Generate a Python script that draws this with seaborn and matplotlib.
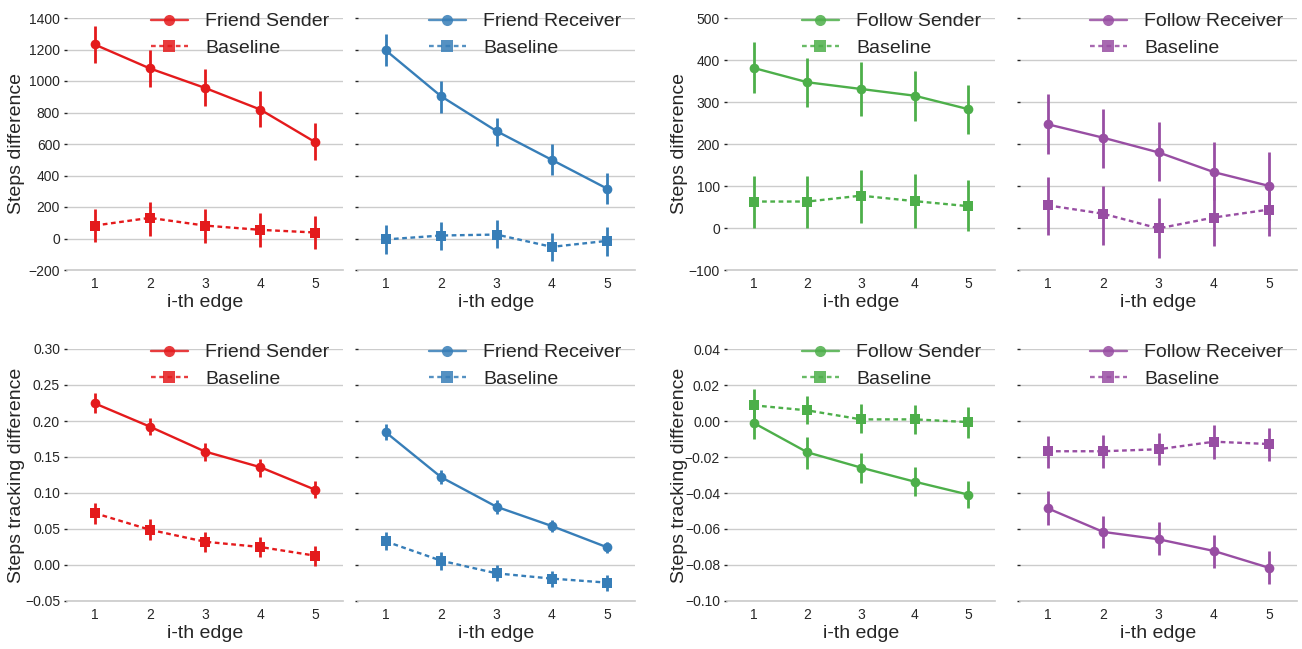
import pandas as pd
import seaborn as sns
import matplotlib.pyplot as plt
from matplotlib.lines import Line2D

edges = [1, 2, 3, 4, 5]

# steps difference, friend sender
fs_steps = [1232, 1080, 956, 819, 611]
fs_steps_lo = [1116, 962, 840, 705, 497]
fs_steps_hi = [1352, 1198, 1074, 939, 731]
fs_steps_base = [82, 131, 82, 55, 38]
fs_steps_base_lo = [-21, 17, -27, -51, -65]
fs_steps_base_hi = [187, 234, 187, 160, 143]

# steps difference, friend receiver
fr_steps = [1195, 903, 682, 499, 316]
fr_steps_lo = [1095, 798, 587, 404, 219]
fr_steps_hi = [1299, 1000, 766, 600, 415]
fr_steps_base = [-6, 19, 25, -53, -15]
fr_steps_base_lo = [-97, -74, -59, -143, -112]
fr_steps_base_hi = [84, 105, 120, 36, 74]

# steps difference, follow sender
ws_steps = [381, 347, 331, 315, 283]
ws_steps_lo = [321, 287, 267, 254, 225]
ws_steps_hi = [443, 405, 395, 373, 341]
ws_steps_base = [63, 63, 77, 64, 52]
ws_steps_base_lo = [-1, 1, 13, 1, -6]
ws_steps_base_hi = [123, 123, 138, 128, 115]

# steps difference, follow receiver
wr_steps = [247, 215, 180, 133, 100]
wr_steps_lo = [176, 143, 113, 67, 20]
wr_steps_hi = [319, 283, 252, 205, 180]
wr_steps_base = [54, 34, -1, 25, 44]
wr_steps_base_lo = [-16, -40, -71, -44, -19]
wr_steps_base_hi = [121, 101, 71, 95, 107]

# steps tracking difference, friend sender
fs_track = [0.2246, 0.1922, 0.1576, 0.1359, 0.1044]
fs_track_lo = [0.2117, 0.1802, 0.1451, 0.1229, 0.0929]
fs_track_hi = [0.2385, 0.2047, 0.1691, 0.1479, 0.1160]
fs_track_base = [0.0721, 0.0490, 0.0323, 0.0250, 0.0129]
fs_track_base_lo = [0.0573, 0.0351, 0.0176, 0.0111, -0.0010]
fs_track_base_hi = [0.0860, 0.0638, 0.0462, 0.0388, 0.0259]

# steps tracking difference, friend receiver
fr_track = [0.1844, 0.1220, 0.0809, 0.0541, 0.0245]
fr_track_lo = [0.1737, 0.1128, 0.0712, 0.0453, 0.0166]
fr_track_hi = [0.1955, 0.1322, 0.0906, 0.0619, 0.0323]
fr_track_base = [0.0328, 0.0060, -0.0116, -0.0189, -0.0245]
fr_track_base_lo = [0.0203, -0.0065, -0.0226, -0.0305, -0.0365]
fr_track_base_hi = [0.0462, 0.0176, 0.0005, -0.0083, -0.0134]

# steps tracking difference, follow sender
ws_track = [-0.0011, -0.0174, -0.0259, -0.0337, -0.0409]
ws_track_lo = [-0.0102, -0.0265, -0.0342, -0.0416, -0.0486]
ws_track_hi = [0.0079, -0.0087, -0.0180, -0.0253, -0.0331]
ws_track_base = [0.0087, 0.0059, 0.0009, 0.0009, -0.0006]
ws_track_base_lo = [-0.0003, -0.0018, -0.0068, -0.0072, -0.0092]
ws_track_base_hi = [0.0176, 0.0139, 0.0094, 0.0089, 0.0076]

# steps tracking difference, follow receiver
wr_track = [-0.0485, -0.0616, -0.0657, -0.0722, -0.0816]
wr_track_lo = [-0.0577, -0.0703, -0.0744, -0.0816, -0.0908]
wr_track_hi = [-0.0390, -0.0525, -0.0562, -0.0633, -0.0722]
wr_track_base = [-0.0168, -0.0168, -0.0157, -0.0115, -0.0128]
wr_track_base_lo = [-0.0259, -0.0259, -0.0244, -0.0209, -0.0224]
wr_track_base_hi = [-0.0083, -0.0080, -0.0068, -0.0022, -0.0041]

names = ["Friend Sender", "Friend Receiver", "Follow Sender", "Follow Receiver"]
colors = ["#e41a1c", "#377eb8", "#4daf4a", "#984ea3"]

sns.set_theme(style="whitegrid")
plt.rcParams["font.family"] = ["Liberation Sans", "DejaVu Sans"]
plt.rcParams["axes.edgecolor"] = "#cccccc"
plt.rcParams["grid.color"] = "#cccccc"
plt.rcParams["text.color"] = "#262626"

fig = plt.figure(figsize=(13.02, 6.49), dpi=100)
W, H = 1302, 649

def place(x0, y0, w, h, sharey=None):
    return fig.add_axes([x0 / W, 1 - (y0 + h) / H, w / W, h / H], sharey=sharey)

rows = [
    dict(top=18, label="Steps difference",
         panels=[(fs_steps, fs_steps_lo, fs_steps_hi, fs_steps_base, fs_steps_base_lo, fs_steps_base_hi),
                 (fr_steps, fr_steps_lo, fr_steps_hi, fr_steps_base, fr_steps_base_lo, fr_steps_base_hi),
                 (ws_steps, ws_steps_lo, ws_steps_hi, ws_steps_base, ws_steps_base_lo, ws_steps_base_hi),
                 (wr_steps, wr_steps_lo, wr_steps_hi, wr_steps_base, wr_steps_base_lo, wr_steps_base_hi)],
         ylims=[(-200, 1400), (-100, 500)], steps=[200, 100]),
    dict(top=349, label="Steps tracking difference",
         panels=[(fs_track, fs_track_lo, fs_track_hi, fs_track_base, fs_track_base_lo, fs_track_base_hi),
                 (fr_track, fr_track_lo, fr_track_hi, fr_track_base, fr_track_base_lo, fr_track_base_hi),
                 (ws_track, ws_track_lo, ws_track_hi, ws_track_base, ws_track_base_lo, ws_track_base_hi),
                 (wr_track, wr_track_lo, wr_track_hi, wr_track_base, wr_track_base_lo, wr_track_base_hi)],
         ylims=[(-0.05, 0.30), (-0.10, 0.04)], steps=[0.05, 0.02]),
]

lefts = [67, 358, 727, 1020]
widths = [276, 277, 268, 277]
ylabel_x = [-0.152, None, -0.146, None]

for row in rows:
    first = None
    for i in range(4):
        share = first if i % 2 == 1 else None
        ax = place(lefts[i], row["top"], widths[i], 252, sharey=share)
        if i % 2 == 0:
            first = ax
        mean, lo, hi, bmean, blo, bhi = row["panels"][i]
        c = colors[i]
        df = pd.DataFrame({
            "edge": edges * 2,
            "value": list(mean) + list(bmean),
            "series": [names[i]] * 5 + ["Baseline"] * 5,
        })
        sns.lineplot(data=df, x="edge", y="value", hue="series", style="series",
                     palette=[c, c], markers={names[i]: "o", "Baseline": "s"},
                     dashes={names[i]: "", "Baseline": (2, 1.5)},
                     linewidth=1.7, markersize=7, markeredgewidth=0,
                     legend=False, ax=ax)
        ax.vlines(edges, lo, hi, color=c, lw=2)
        ax.vlines(edges, blo, bhi, color=c, lw=2)

        ylo, yhi = row["ylims"][i // 2]
        st = row["steps"][i // 2]
        n = int(round((yhi - ylo) / st))
        ax.set_yticks([ylo + k * st for k in range(n + 1)])
        ax.set_ylim(ylo, yhi)
        ax.set_xlim(0.5, 5.5)
        ax.set_xticks(edges)
        ax.grid(axis="x", visible=False)
        ax.grid(axis="y", color="#cccccc", lw=1)
        for s in ["left", "top", "right"]:
            ax.spines[s].set_visible(False)
        ax.spines["bottom"].set_color("#cccccc")
        ax.tick_params(axis="y", left=True, length=2, width=1, color="#262626",
                       labelsize=10, pad=3, labelcolor="#262626")
        ax.tick_params(axis="x", bottom=False, length=0, labelsize=10, pad=5,
                       labelcolor="#262626")
        ax.set_xlabel("i-th edge", fontsize=14, labelpad=2)
        if i % 2 == 0:
            ax.set_ylabel(row["label"], fontsize=14)
            ax.yaxis.set_label_coords(ylabel_x[i], 0.5)
        else:
            ax.set_ylabel("")
            ax.tick_params(axis="y", labelleft=False)

        handles = [
            Line2D([], [], color=c, lw=1.7, alpha=0.85, marker="o", markersize=8,
                   markeredgewidth=0),
            Line2D([], [], color=c, lw=1.7, alpha=0.85, marker="s", markersize=8,
                   markeredgewidth=0, linestyle=(0, (2, 1.5))),
        ]
        ax.legend(handles, [names[i], "Baseline"], loc="upper right",
                  bbox_to_anchor=(1.0, 1.075), frameon=False, fontsize=14,
                  handlelength=1.9, handletextpad=0.9, labelspacing=0.45,
                  borderaxespad=0.3)

fig.savefig("out.png", dpi=100)
